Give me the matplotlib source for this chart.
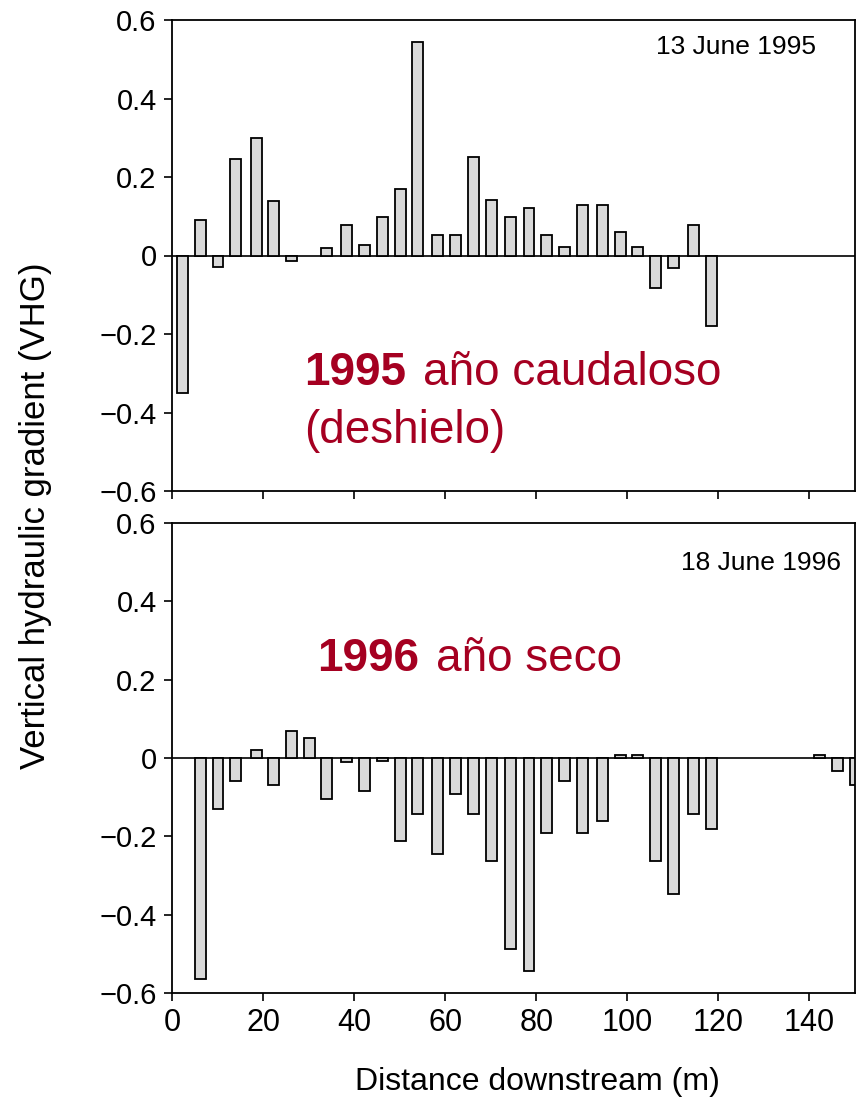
import matplotlib
matplotlib.use("Agg")
import matplotlib.pyplot as plt
from matplotlib.ticker import FuncFormatter

plt.rcParams['font.family'] = ['Liberation Sans', 'DejaVu Sans']
plt.rcParams['axes.unicode_minus'] = True

# ---- data ----
dist_1995 = [2.4, 6.3, 10.1, 14.0, 18.5, 22.3, 26.2, 34.0, 38.4, 42.3, 46.2, 50.1,
             54.0, 58.4, 62.3, 66.2, 70.1, 74.3, 78.4, 82.3, 86.2, 90.1, 94.5, 98.4,
             102.3, 106.2, 110.1, 114.5, 118.5]
vhg_1995 = [-0.35, 0.09, -0.03, 0.245, 0.30, 0.14, -0.013, 0.02, 0.078, 0.027, 0.098,
            0.169, 0.545, 0.053, 0.053, 0.25, 0.142, 0.098, 0.122, 0.053, 0.021, 0.129,
            0.129, 0.06, 0.021, -0.082, -0.031, 0.078, -0.179]

dist_1996 = [6.3, 10.1, 14.0, 18.5, 22.3, 26.2, 30.1, 34.0, 38.4, 42.3, 46.2, 50.1,
             54.0, 58.4, 62.3, 66.2, 70.1, 74.3, 78.4, 82.3, 86.2, 90.1, 94.5, 98.4,
             102.3, 106.2, 110.1, 114.5, 118.5, 142.3, 146.2, 150.1]
vhg_1996 = [-0.564, -0.130, -0.059, 0.020, -0.070, 0.070, 0.051, -0.105, -0.010,
            -0.085, -0.008, -0.212, -0.142, -0.244, -0.091, -0.142, -0.264, -0.487,
            -0.544, -0.191, -0.059, -0.191, -0.162, 0.008, 0.008, -0.264, -0.347,
            -0.142, -0.181, 0.008, -0.033, -0.070]

x_ticks = [0, 20, 40, 60, 80, 100, 120, 140]
y_ticks = [-0.6, -0.4, -0.2, 0, 0.2, 0.4, 0.6]
date_1995 = "13 June 1995"
date_1996 = "18 June 1996"
x_label = "Distance downstream (m)"
y_label = "Vertical hydraulic gradient (VHG)"

RED = "#A50021"
BAR_FILL = "#d9d9d9"

fig = plt.figure(figsize=(8.57, 11.05), dpi=100)
W, H = 857, 1105
ax1 = fig.add_axes([172 / W, 1 - 491 / H, 683 / W, 471 / H])
ax2 = fig.add_axes([172 / W, 1 - 993 / H, 683 / W, 470 / H])


def yfmt(v, pos):
    if abs(v) < 1e-9:
        return "0"
    return f"{v:.1f}".replace("-", "\u2212")


for ax, d, v in ((ax1, dist_1995, vhg_1995), (ax2, dist_1996, vhg_1996)):
    ax.axhline(0, color="black", lw=1.2, zorder=1)
    ax.bar(d, v, width=2.4, color=BAR_FILL, edgecolor="black", linewidth=1.3, zorder=2)
    ax.set_xlim(0, 150)
    ax.set_ylim(-0.6, 0.6)
    ax.set_xticks(x_ticks)
    ax.set_yticks(y_ticks)
    ax.yaxis.set_major_formatter(FuncFormatter(yfmt))
    ax.tick_params(direction="out", length=6, width=1.2, labelsize=21, pad=5)
    ax.tick_params(axis="x", labelsize=22)
    for s in ax.spines.values():
        s.set_linewidth(1.3)

ax1.tick_params(axis="x", labelbottom=False)

# date labels
ax1.text(141.5, 0.513, date_1995, ha="right", va="baseline", fontsize=19)
ax2.text(147.0, 0.479, date_1996, ha="right", va="baseline", fontsize=19)

# red annotations
ax1.text(29.0, -0.331, "1995", color=RED, fontsize=33, fontweight="bold",
         ha="left", va="baseline")
ax1.text(55.2, -0.331, "año caudaloso", color=RED, fontsize=33,
         ha="left", va="baseline")
ax1.text(29.0, -0.477, "(deshielo)", color=RED, fontsize=33,
         ha="left", va="baseline")
ax2.text(31.9, 0.223, "1996", color=RED, fontsize=33, fontweight="bold",
         ha="left", va="baseline")
ax2.text(58.0, 0.223, "año seco", color=RED, fontsize=33,
         ha="left", va="baseline")

fig.text(537 / W, 1 - 1082 / H, x_label, ha="center", va="center", fontsize=23)
fig.text(36 / W, 1 - 516 / H, y_label, ha="center", va="center",
         rotation=90, fontsize=25)

fig.savefig("out.png", dpi=100)
